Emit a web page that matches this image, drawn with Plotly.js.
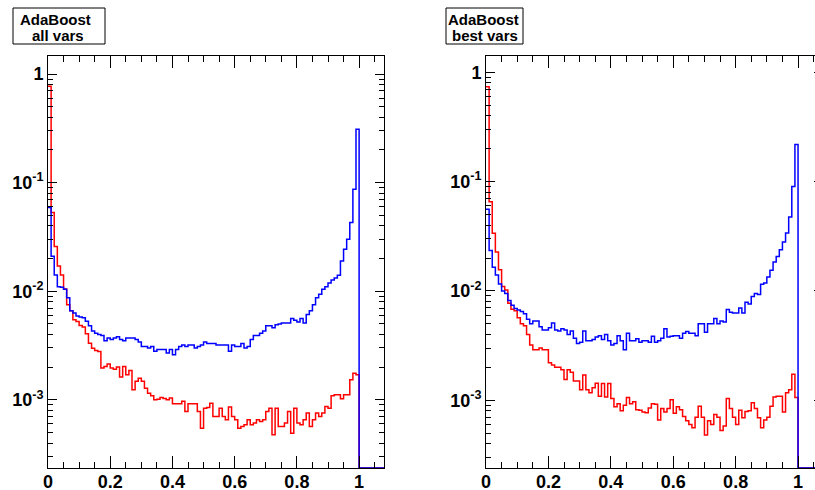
<!DOCTYPE html>
<html>
<head>
<meta charset="utf-8">
<script src="https://cdn.plot.ly/plotly-3.0.1.min.js"></script>
<style>
html,body{margin:0;padding:0;overflow:hidden;background:#fff;width:815px;height:490px;}
#chart{width:830px;height:490px;}
</style>
</head>
<body>
<div id="chart"></div>
<script>
// ---------------- data ----------------
const binWidth = 0.01;
const xMaxAll = 1.08;

// Left panel: "AdaBoost all vars"
const allVarsBackground = [
  0.77, 0.053, 0.0258, 0.0171, 0.0141, 0.0105, 0.0075, 0.0066, 0.00545, 0.00526,
  0.00483, 0.00467, 0.00405, 0.00332, 0.00299, 0.00284, 0.00279, 0.00196, 0.00203, 0.00214,
  0.00196, 0.00191, 0.0020, 0.00162, 0.00203, 0.0017, 0.00186, 0.00124, 0.00148, 0.00158,
  0.00148, 0.00128, 0.00115, 0.00109, 0.0010, 0.00101, 0.00105, 0.00103, 0.0010, 0.00104,
  0.00092, 0.00092, 0.00092, 0.00097, 0.00078, 0.00092, 0.00092, 0.00092, 0.00078, 0.000548,
  0.000838, 0.00085, 0.000932, 0.000703, 0.000703, 0.000838, 0.000703, 0.000655, 0.000857, 0.000703,
  0.000655, 0.000548, 0.000569, 0.000589, 0.000655, 0.000589, 0.00061, 0.000655, 0.000632, 0.000655,
  0.000781, 0.000838, 0.000476, 0.000838, 0.000569, 0.000569, 0.00061, 0.000781, 0.000493, 0.000838,
  0.00061, 0.000589, 0.000655, 0.000754, 0.000569, 0.000655, 0.000754, 0.000703, 0.000754, 0.000868,
  0.000838, 0.001089, 0.001112, 0.001112, 0.001021, 0.001112, 0.001112, 0.001528, 0.001758, 0.001698
];
const allVarsSignal = [
  0.059, 0.021, 0.0141, 0.0110, 0.0109, 0.0104, 0.0087, 0.0066, 0.0063, 0.0059,
  0.0058, 0.0057, 0.0053, 0.0048, 0.0043, 0.0041, 0.0040, 0.0039, 0.0035, 0.0037,
  0.0036, 0.0037, 0.0038, 0.0036, 0.0035, 0.0037, 0.0037, 0.0037, 0.0036, 0.0034,
  0.0031, 0.0031, 0.0030, 0.0031, 0.0028, 0.0029, 0.0029, 0.0029, 0.0027, 0.0029,
  0.0026, 0.0029, 0.0031, 0.0032, 0.0031, 0.0032, 0.0032, 0.0030, 0.0031, 0.0032,
  0.0034, 0.0033, 0.0033, 0.0033, 0.0032, 0.0032, 0.0032, 0.0032, 0.0028, 0.0032,
  0.0031, 0.0031, 0.0033, 0.0030, 0.0031, 0.0036, 0.0039, 0.0039, 0.0041, 0.0043,
  0.0048, 0.0048, 0.0046, 0.0049, 0.0050, 0.0051, 0.0051, 0.0051, 0.0056, 0.0054,
  0.0052, 0.0056, 0.0051, 0.0061, 0.0066, 0.0075, 0.0087, 0.0094, 0.0104, 0.0110,
  0.0119, 0.0127, 0.0132, 0.0140, 0.0190, 0.0244, 0.0301, 0.0430, 0.087, 0.31
];

// Right panel: "AdaBoost best vars"
const bestVarsBackground = [
  0.74, 0.0655, 0.0337, 0.0227, 0.0156, 0.0110, 0.0102, 0.0077, 0.0068, 0.0066,
  0.0057, 0.0050, 0.0048, 0.0040, 0.0032, 0.0029, 0.0029, 0.0030, 0.0029, 0.0029,
  0.0022, 0.0021, 0.0020, 0.0020, 0.0019, 0.00155, 0.0019, 0.0018, 0.0015, 0.0015,
  0.00125, 0.0017, 0.00125, 0.00117, 0.0013, 0.00143, 0.00109, 0.00142, 0.00107, 0.00142,
  0.00104, 0.00087, 0.00093, 0.0008, 0.0009, 0.00106, 0.00093, 0.00097, 0.00082, 0.00081,
  0.00078, 0.00077, 0.00085, 0.00093, 0.00092, 0.00066, 0.00084, 0.00078, 0.00084, 0.00101,
  0.00076, 0.00087, 0.00082, 0.00071, 0.00065, 0.0006, 0.00056, 0.0007, 0.00088, 0.0007,
  0.00048, 0.00065, 0.0006, 0.00074, 0.0007, 0.00053, 0.00058, 0.00104, 0.00084, 0.0007,
  0.0006, 0.00081, 0.00069, 0.00079, 0.0008, 0.00095, 0.00084, 0.00069, 0.00056, 0.00066,
  0.0007, 0.00088, 0.00107, 0.00109, 0.00109, 0.00078, 0.00117, 0.00125, 0.00173, 0.00106
];
const bestVarsSignal = [
  0.056, 0.0235, 0.0165, 0.0140, 0.0116, 0.0100, 0.0095, 0.0082, 0.0074, 0.0069,
  0.0067, 0.0065, 0.0062, 0.0055, 0.0050, 0.0053, 0.0053, 0.0047, 0.0044, 0.0044,
  0.0046, 0.0051, 0.0044, 0.0043, 0.0045, 0.0044, 0.0040, 0.0043, 0.0037, 0.0033,
  0.0034, 0.0043, 0.0035, 0.0035, 0.0036, 0.0038, 0.0039, 0.0036, 0.0040, 0.0035,
  0.0032, 0.0033, 0.0039, 0.0035, 0.0029, 0.0041, 0.0035, 0.0035, 0.00365, 0.0034,
  0.0035, 0.0035, 0.0034, 0.00385, 0.0034, 0.0035, 0.0037, 0.0045, 0.0038, 0.00385,
  0.0039, 0.0039, 0.0037, 0.0041, 0.00425, 0.0041, 0.0041, 0.0039, 0.0050, 0.0050,
  0.0042, 0.0050, 0.0050, 0.0056, 0.0050, 0.0053, 0.0052, 0.00675, 0.0064, 0.0063,
  0.0063, 0.0070, 0.0063, 0.0079, 0.0076, 0.0089, 0.0095, 0.0093, 0.0115, 0.0118,
  0.0134, 0.0155, 0.0184, 0.0207, 0.0238, 0.028, 0.034, 0.0475, 0.0904, 0.219
];

const panelTitles = [["AdaBoost", "all vars"], ["AdaBoost", "best vars"]];
const xTickVals = [0, 0.2, 0.4, 0.6, 0.8, 1];
const xTickText = ["0", "0.2", "0.4", "0.6", "0.8", "1"];
const yTickVals = [1, 0.1, 0.01, 0.001];
const yTickText = ["1", "10<sup>-1</sup>", "10<sup>-2</sup>", "10<sup>-3</sup>"];

// ---------------- layout helpers ----------------
const W = 830, H = 490, T = 56, B = 22;
const plotH = H - T - B;
const yRangeL = [-3.628, 0.166];
const yRangeR = [-3.62, 0.15];

function stepXY(vals, floorVal) {
  const nb = Math.round(xMaxAll / binWidth);
  const xs = [], ys = [];
  for (let i = 0; i < nb; i++) {
    xs.push(i * binWidth);
    ys.push(i < vals.length ? vals[i] : floorVal);
  }
  xs.push(nb * binWidth);
  ys.push(ys[ys.length - 1]);
  return {x: xs, y: ys};
}

const floorL = Math.pow(10, yRangeL[0]);
const floorR = Math.pow(10, yRangeR[0]);
const red = '#ff0000', blue = '#0000ff';
function tr(vals, floorVal, color, xa, ya) {
  const s = stepXY(vals, floorVal);
  return {x: s.x, y: s.y, xaxis: xa, yaxis: ya, type: 'scatter', mode: 'lines',
          line: {shape: 'hv', color: color, width: 1.5}, hoverinfo: 'skip'};
}
const data = [
  tr(allVarsBackground, floorL, red, 'x', 'y'),
  tr(allVarsSignal, floorL, blue, 'x', 'y'),
  tr(bestVarsBackground, floorR, red, 'x2', 'y2'),
  tr(bestVarsSignal, floorR, blue, 'x2', 'y2')
];

const tickFont = {family: 'Liberation Sans, Arial, sans-serif', size: 18, weight: 'bold', color: '#000'};
function minorLog() {
  const v = [];
  for (let e = -4; e <= 0; e++) for (let m = 2; m <= 9; m++) v.push(m * Math.pow(10, e));
  return v;
}
function xAxis(dom, anchor) {
  return {domain: dom, anchor: anchor, range: [0, xMaxAll], showline: true, linecolor: '#000', linewidth: 1,
    mirror: 'ticks', ticks: 'inside', ticklen: 12, tickwidth: 1, tickcolor: '#000',
    tickmode: 'array', tickvals: xTickVals, ticktext: xTickText, ticklabelstandoff: -3,
    minor: {ticks: 'inside', ticklen: 6, tickwidth: 1, tickcolor: '#000', dtick: 0.05, tick0: 0, showgrid: false},
    showgrid: false, zeroline: false, tickfont: tickFont, fixedrange: true, layer: 'above traces'};
}
function yAxis(range, anchor) {
  return {type: 'log', domain: [0, 1], anchor: anchor, range: range, showline: true, linecolor: '#000', linewidth: 1,
    mirror: 'ticks', ticks: 'inside', ticklen: 9, tickwidth: 1, tickcolor: '#000',
    tickmode: 'array', tickvals: yTickVals, ticktext: yTickText,
    minor: {ticks: 'inside', ticklen: 5, tickwidth: 1, tickcolor: '#000', tickmode: 'array', tickvals: minorLog(), showgrid: false},
    showgrid: false, zeroline: false, tickfont: tickFont, fixedrange: true, layer: 'above traces'};
}
const px = v => v / W;
const py = v => (H - B - v) / plotH;

const boxes = [
  {x0: 13, x1: 105, c1: 55.5, c2: 58},
  {x0: 446, x1: 523, c1: 483, c2: 485}
];
const shapes = [], annotations = [];
const boxFont = {family: 'Liberation Sans, Arial, sans-serif', size: 15, weight: 'bold', color: '#000'};
boxes.forEach((b, k) => {
  shapes.push({type: 'rect', xref: 'paper', yref: 'paper', x0: px(b.x0), x1: px(b.x1), y0: py(44), y1: py(8),
    line: {color: '#000', width: 1}, fillcolor: '#fff'});
  annotations.push({xref: 'paper', yref: 'paper', x: px(b.c1), y: py(19), text: panelTitles[k][0],
    showarrow: false, xanchor: 'center', yanchor: 'middle', height: 14, valign: 'middle', borderpad: 0, font: boxFont});
  annotations.push({xref: 'paper', yref: 'paper', x: px(b.c2), y: py(35), text: panelTitles[k][1],
    showarrow: false, xanchor: 'center', yanchor: 'middle', height: 14, valign: 'middle', borderpad: 0, font: boxFont});
});

const layout = {
  width: W, height: H, margin: {l: 0, r: 0, t: T, b: B, pad: 0}, showlegend: false,
  paper_bgcolor: '#fff', plot_bgcolor: '#fff',
  xaxis: xAxis([px(48), px(384)], 'y'),
  yaxis: yAxis(yRangeL, 'x'),
  xaxis2: xAxis([px(486), px(823)], 'y2'),
  yaxis2: yAxis(yRangeR, 'x2'),
  shapes: shapes, annotations: annotations
};
Plotly.newPlot('chart', data, layout, {displayModeBar: false, staticPlot: true});
</script>
</body>
</html>
